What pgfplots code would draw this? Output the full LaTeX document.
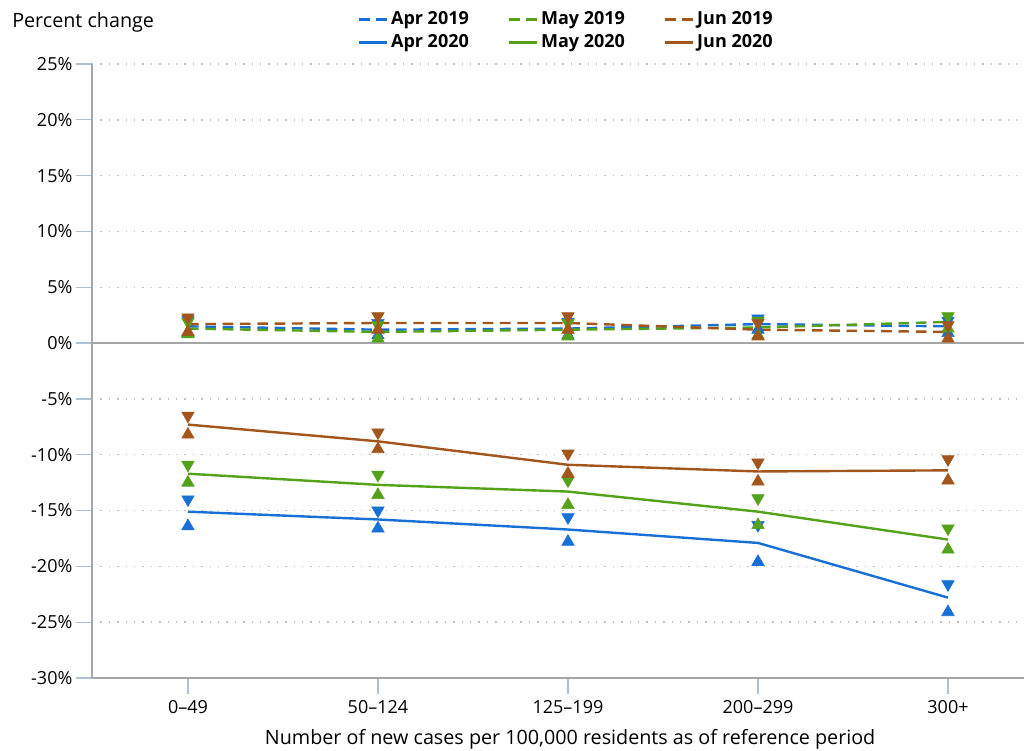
\documentclass[border=0pt]{standalone}
\usepackage{pgfplots}
\pgfplotsset{compat=1.18}
\usepackage{pgfplotstable}
\usepackage{fontspec}
\setmainfont{Open Sans}
\definecolor{cblue}{RGB}{24,112,214}
\definecolor{cgreen}{RGB}{84,162,26}
\definecolor{cbrown}{RGB}{162,86,28}
\definecolor{tickc}{RGB}{172,192,214}
\definecolor{axc}{RGB}{165,165,165}

\pgfplotstableread{
x y lo hi
0 1.5 0.9 2.1
1 1.2 0.7 1.8
2 1.3 0.7 1.9
3 1.7 1.2 2.2
4 1.5 0.9 2.0
}\aprA
\pgfplotstableread{
x y lo hi
0 1.3 0.8 1.9
1 1.0 0.4 1.6
2 1.2 0.6 1.8
3 1.4 0.7 2.0
4 1.9 1.3 2.4
}\mayA
\pgfplotstableread{
x y lo hi
0 1.7 1.0 2.3
1 1.8 1.2 2.4
2 1.8 1.2 2.4
3 1.2 0.6 1.8
4 1.0 0.4 1.6
}\junA
\pgfplotstableread{
x y lo hi
0 -15.1 -16.4 -14.0
1 -15.8 -16.6 -15.0
2 -16.7 -17.8 -15.6
3 -17.9 -19.6 -16.3
4 -22.8 -24.1 -21.6
}\aprB
\pgfplotstableread{
x y lo hi
0 -11.7 -12.5 -10.9
1 -12.7 -13.6 -11.8
2 -13.3 -14.5 -12.3
3 -15.1 -16.3 -13.9
4 -17.6 -18.5 -16.6
}\mayB
\pgfplotstableread{
x y lo hi
0 -7.3 -8.2 -6.5
1 -8.8 -9.5 -8.0
2 -10.9 -11.7 -9.9
3 -11.5 -12.4 -10.7
4 -11.4 -12.3 -10.4
}\junB

\pgfplotsset{
  ciup/.style={only marks, mark=triangle*, mark size=5.4pt, forget plot, mark options={solid}},
  cidown/.style={only marks, mark=triangle*, mark size=5.4pt, forget plot, mark options={solid, rotate=180}},
  dashedline/.style={line width=1.8pt, dash pattern=on 8pt off 5pt},
  solidline/.style={line width=1.8pt},
}

\begin{document}
\fontsize{13.5pt}{16pt}\selectfont
\begin{tikzpicture}
\path[use as bounding box] (0,0) rectangle (768pt,562.5pt);
\node[anchor=west, inner sep=0pt, font=\fontsize{14.8pt}{17pt}\selectfont] at (9pt,546pt) {Percent change};
\begin{axis}[
  at={(69pt,54pt)}, anchor=south west,
  scale only axis, width=699pt, height=460.5pt,
  xmin=-0.505, xmax=4.4, ymin=-30, ymax=25,
  axis lines*=left,
  axis line style={-, axc, line width=1pt},
  xtick={0,1,2,3,4},
  xticklabels={0–49, 50–124, 125–199, 200–299, 300+},
  ytick={-30,-25,-20,-15,-10,-5,0,5,10,15,20,25},
  yticklabels={-30\%,-25\%,-20\%,-15\%,-10\%,-5\%,0\%,5\%,10\%,15\%,20\%,25\%},
  yticklabel style={xshift=2pt},
  tick align=outside,
  major tick length=12pt,
  tick style={tickc, line width=1pt},
  ymajorgrids,
  grid style={dash pattern=on 1.1pt off 5.2pt, line width=1.1pt, black!25},
  xlabel={Number of new cases per 100,000 residents as of reference period},
  xlabel style={at={(axis description cs:0.513,0)}, anchor=center, yshift=-45.75pt,
    font=\fontsize{14.8pt}{17pt}\selectfont},
  legend columns=3,
  legend style={at={(axis description cs:0.509,1.054)}, anchor=center, draw=none, fill=none,
    font=\bfseries, row sep=1pt,
    /tikz/every even column/.append style={column sep=27pt}},
  legend image code/.code={\draw[#1, line width=2.2pt] (-4pt,0pt) -- (17pt,0pt);},
  clip=false,
]
\addplot[axc, line width=1pt, forget plot] coordinates {(-0.505,0) (4.4,0)};

\addplot[cblue, dashedline] table[x=x,y=y]{\aprA}; \addlegendentry{Apr 2019}
\addplot[cblue, ciup] table[x=x,y=lo]{\aprA};
\addplot[cblue, cidown] table[x=x,y=hi]{\aprA};

\addplot[cgreen, dashedline] table[x=x,y=y]{\mayA}; \addlegendentry{May 2019}
\addplot[cgreen, ciup] table[x=x,y=lo]{\mayA};
\addplot[cgreen, cidown] table[x=x,y=hi]{\mayA};

\addplot[cbrown, dashedline] table[x=x,y=y]{\junA}; \addlegendentry{Jun 2019}
\addplot[cbrown, ciup] table[x=x,y=lo]{\junA};
\addplot[cbrown, cidown] table[x=x,y=hi]{\junA};

\addplot[cblue, solidline] table[x=x,y=y]{\aprB}; \addlegendentry{Apr 2020}
\addplot[cblue, ciup] table[x=x,y=lo]{\aprB};
\addplot[cblue, cidown] table[x=x,y=hi]{\aprB};

\addplot[cgreen, solidline] table[x=x,y=y]{\mayB}; \addlegendentry{May 2020}
\addplot[cgreen, ciup] table[x=x,y=lo]{\mayB};
\addplot[cgreen, cidown] table[x=x,y=hi]{\mayB};

\addplot[cbrown, solidline] table[x=x,y=y]{\junB}; \addlegendentry{Jun 2020}
\addplot[cbrown, ciup] table[x=x,y=lo]{\junB};
\addplot[cbrown, cidown] table[x=x,y=hi]{\junB};
\end{axis}
\end{tikzpicture}
\end{document}
